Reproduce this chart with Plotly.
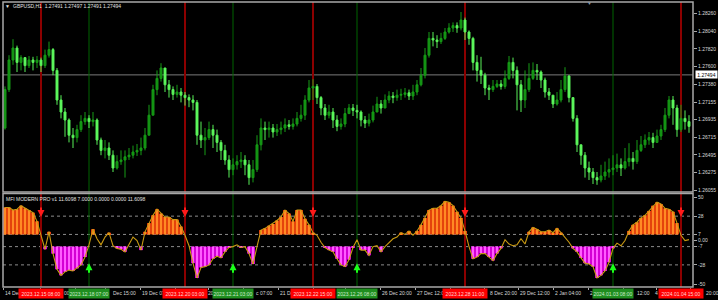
import plotly.graph_objects as go

# ---------------- data ----------------
symbol_header = "GBPUSD,H1  1.27491 1.27497 1.27491 1.27494"
indicator_header = "MFI MODERN PRO v1 11.6098 7.0000 0.0000 0.0000 11.6098"

first_open = 1.2683
close = [1.2731, 1.2768, 1.2783, 1.2765, 1.2771, 1.2761, 1.2768, 1.2765, 1.2768, 1.2761,
         1.2774, 1.2781, 1.2755, 1.2718, 1.2703, 1.2693, 1.2674, 1.2671, 1.2681, 1.2691,
         1.2695, 1.2691, 1.2693, 1.2668, 1.2655, 1.2658, 1.2649, 1.2633, 1.2641, 1.2643,
         1.2647, 1.2649, 1.2653, 1.2655, 1.2658, 1.2674, 1.2699, 1.2731, 1.2745, 1.2758,
         1.2737, 1.2731, 1.2725, 1.2728, 1.2724, 1.2721, 1.2718, 1.2715, 1.2674, 1.2668,
         1.2671, 1.2681, 1.2674, 1.2665, 1.2655, 1.2643, 1.2631, 1.2637, 1.2641, 1.2643,
         1.2637, 1.2621, 1.2631, 1.2662, 1.2683, 1.2681, 1.2683, 1.2678, 1.2681, 1.2683,
         1.2687, 1.2685, 1.2688, 1.2695, 1.2699, 1.2718, 1.2733, 1.2735, 1.2721, 1.2708,
         1.2699, 1.2703, 1.2693, 1.2685, 1.2688, 1.2701, 1.2708, 1.2705, 1.2703, 1.2693,
         1.2689, 1.2693, 1.2703, 1.2713, 1.2708, 1.2718, 1.2723, 1.2721, 1.2724, 1.2725,
         1.2727, 1.2723, 1.2728, 1.2737, 1.2749, 1.2774, 1.2795, 1.2793, 1.2791, 1.2795,
         1.2803, 1.2808, 1.2811, 1.2808, 1.2818, 1.2803, 1.2795, 1.2765, 1.2755, 1.2749,
         1.2733, 1.2731, 1.2735, 1.2738, 1.2735, 1.2745, 1.2765, 1.2755, 1.2737, 1.2718,
         1.2731, 1.2745, 1.2755, 1.2753, 1.2743, 1.2728, 1.2724, 1.2713, 1.2718, 1.2731,
         1.2748, 1.2721, 1.2695, 1.2662, 1.2649, 1.2633, 1.2628, 1.2621, 1.2618, 1.2623,
         1.2628, 1.2631, 1.2633, 1.2637, 1.2633, 1.2641, 1.2645, 1.2641, 1.2655, 1.2662,
         1.2668, 1.2671, 1.2665, 1.2673, 1.2681, 1.2699, 1.2718, 1.2708, 1.2681, 1.2695,
         1.2691, 1.2685]
high = [1.2735, 1.2774, 1.2794, 1.2786, 1.2774, 1.2771, 1.2773, 1.2772, 1.2773, 1.2771,
        1.2781, 1.2791, 1.2783, 1.2758, 1.2724, 1.2708, 1.2695, 1.2683, 1.2687, 1.2699,
        1.2703, 1.2699, 1.2703, 1.2695, 1.2671, 1.2668, 1.2665, 1.2655, 1.2649, 1.2655,
        1.2655, 1.2658, 1.2661, 1.2663, 1.2671, 1.2683, 1.2712, 1.2737, 1.2755, 1.2764,
        1.2758, 1.2743, 1.2735, 1.2737, 1.2733, 1.2728, 1.2725, 1.2724, 1.2718, 1.2691,
        1.2683, 1.2691, 1.2687, 1.2681, 1.2668, 1.2662, 1.2649, 1.2645, 1.2649, 1.2653,
        1.2649, 1.2643, 1.2643, 1.2674, 1.2695, 1.2691, 1.2691, 1.2688, 1.2688, 1.2691,
        1.2695, 1.2693, 1.2695, 1.2703, 1.2712, 1.2724, 1.2743, 1.2744, 1.2738, 1.2723,
        1.2713, 1.2712, 1.2708, 1.2699, 1.2695, 1.2708, 1.2713, 1.2713, 1.2712, 1.2705,
        1.2698, 1.2701, 1.2711, 1.2722, 1.2718, 1.2725, 1.2729, 1.2728, 1.2731, 1.2732,
        1.2733, 1.2731, 1.2737, 1.2743, 1.2758, 1.2783, 1.2803, 1.2803, 1.2799, 1.2802,
        1.2808, 1.2814, 1.2815, 1.2815, 1.2828, 1.2821, 1.2805, 1.2797, 1.2774, 1.2772,
        1.2752, 1.2737, 1.2743, 1.2743, 1.2743, 1.2755, 1.2773, 1.2771, 1.2760, 1.2743,
        1.2755, 1.2764, 1.2765, 1.2763, 1.2755, 1.2746, 1.2733, 1.2724, 1.2728, 1.2743,
        1.2759, 1.2749, 1.2721, 1.2699, 1.2662, 1.2653, 1.2641, 1.2633, 1.2628, 1.2637,
        1.2641, 1.2645, 1.2649, 1.2651, 1.2645, 1.2658, 1.2664, 1.2653, 1.2668, 1.2673,
        1.2675, 1.2678, 1.2677, 1.2681, 1.2687, 1.2708, 1.2723, 1.2723, 1.2712, 1.2712,
        1.2705, 1.2699]
low = [1.2681, 1.2728, 1.2762, 1.2753, 1.2755, 1.2753, 1.2758, 1.2755, 1.2758, 1.2753,
       1.2758, 1.2771, 1.2749, 1.2712, 1.2695, 1.2672, 1.2665, 1.2658, 1.2665, 1.2678,
       1.2687, 1.2683, 1.2685, 1.2662, 1.2649, 1.2645, 1.2643, 1.2628, 1.2631, 1.2637,
       1.2621, 1.2643, 1.2645, 1.2648, 1.2649, 1.2655, 1.2674, 1.2699, 1.2724, 1.2741,
       1.2728, 1.2721, 1.2718, 1.2721, 1.2715, 1.2711, 1.2709, 1.2705, 1.2662, 1.2658,
       1.2649, 1.2668, 1.2658, 1.2653, 1.2643, 1.2637, 1.2621, 1.2624, 1.2631, 1.2633,
       1.2624, 1.2612, 1.2615, 1.2628, 1.2655, 1.2668, 1.2671, 1.2671, 1.2673, 1.2675,
       1.2678, 1.2681, 1.2681, 1.2685, 1.2691, 1.2693, 1.2715, 1.2718, 1.2713, 1.2699,
       1.2693, 1.2695, 1.2683, 1.2679, 1.2681, 1.2684, 1.2701, 1.2698, 1.2695, 1.2685,
       1.2683, 1.2685, 1.2690, 1.2703, 1.2701, 1.2708, 1.2714, 1.2714, 1.2717, 1.2718,
       1.2721, 1.2718, 1.2718, 1.2724, 1.2735, 1.2745, 1.2771, 1.2785, 1.2783, 1.2788,
       1.2793, 1.2801, 1.2803, 1.2802, 1.2805, 1.2793, 1.2787, 1.2755, 1.2741, 1.2738,
       1.2724, 1.2718, 1.2728, 1.2733, 1.2731, 1.2732, 1.2743, 1.2745, 1.2705, 1.2703,
       1.2708, 1.2728, 1.2743, 1.2743, 1.2733, 1.2721, 1.2718, 1.2708, 1.2711, 1.2715,
       1.2728, 1.2715, 1.2691, 1.2653, 1.2637, 1.2621, 1.2618, 1.2613, 1.2612, 1.2615,
       1.2618, 1.2621, 1.2624, 1.2628, 1.2623, 1.2631, 1.2635, 1.2631, 1.2638, 1.2653,
       1.2658, 1.2662, 1.2658, 1.2665, 1.2668, 1.2678, 1.2695, 1.2687, 1.2672, 1.2678,
       1.2681, 1.2677]
mfi = [38, 38, 35, 36, 40, 37, 35, 32, 22, 7,
       -10, 10, -15, -33, -40, -36, -34, -35, -32, -28,
       -19, -5, 13, 2, -5, 4, 9, -6, -9, -10,
       -13, -4, 4, 0, -11, 10, 20, 29, 36, 31,
       27, 27, 24, 24, 16, 6, -6, -26, -43, -31,
       -30, -28, -21, -18, -20, -13, -8, -7, -5, -8,
       -7, -15, -27, -7, 12, 14, 17, 19, 23, 27,
       35, 31, 22, 35, 35, 25, 18, 9, 6, -2,
       -8, -11, -13, -21, -28, -30, -22, -8, 1, -11,
       -11, -17, -7, -6, -13, -7, -2, 2, 4, 9,
       7, 11, 6, 11, 18, 26, 35, 37, 37, 40,
       45, 44, 40, 33, 26, 11, -7, -21, -19, -15,
       -15, -19, -23, -15, -9, 1, -4, -6, -5, 2,
       -4, 10, 15, 13, 10, 10, 12, 9, 14, 9,
       4, -2, -9, -13, -20, -26, -27, -30, -43, -40,
       -35, -25, -9, -3, -6, 0, 11, 18, 21, 26,
       29, 34, 40, 44, 42, 37, 36, 33, 20, 6,
       0, 1]

last_price = 1.27494
price_ticks = [1.28260, 1.28040, 1.27820, 1.27600, 1.27380, 1.27155,
               1.26935, 1.26715, 1.26495, 1.26275, 1.26055]
mfi_ticks = [50, 28, 7, 0, -7, -28, -50]
mfi_tick_text = ["50", "28", "7", "0.00", "-7", "-28", "-50"]
mfi_levels = [28, 7, -7, -28]
upper_level, lower_level = 7, -7

# time-axis tick positions (bar index) and the visible parts of their labels
time_tick_bars = [-0.5, 8.75, 17.5, 25, 33.75, 42.5, 50.75, 59.5, 68.25, 77, 85,
                  93.75, 102.5, 111.25, 119.75, 128.25, 137, 145.75, 154.5, 162.75, 171.25]
time_label_text = ["14 Dec", "00", "Dec 15:00", "19 Dec 07", "20", "c 07:00", "21 De",
                   "26 Dec 20:00", "27 Dec 12:00", "8 Dec 20:00", "29 Dec 12:00",
                   "2 Jan 04:00", "2", "12:00", "4", "20:00"]

sell_bars = [9, 45, 77, 115, 169]
sell_times = ["2023.12.15 08:00", "2023.12.20 03:00", "2023.12.22 15:00",
              "2023.12.28 11:00", "2024.01.04 15:00"]
buy_bars = [21, 57, 88, 152]
buy_times = ["2023.12.18 07:00", "2023.12.21 03:00", "2023.12.26 08:00", "2024.01.03 08:00"]
sell_arrow_level = 27
buy_arrow_level = -26

# ---------------- figure ----------------
W, H = 718, 300
FONT = "Liberation Sans"
idx = list(range(len(close)))
opens = [first_open] + close[:-1]


def px_x(p):
    return p / W


def px_y(p):
    return 1 - p / H


XDOM = [px_x(3), px_x(693)]
XR = [-0.5, 172]
# left pixel of each visible time-label fragment
label_left_px = [3, 61.5, 111, 140, 205.5, 254, 278, 380, 415, 488, 518, 553, 588, 635, 653, 704]

fig = go.Figure()

fig.add_trace(go.Candlestick(
    x=idx, open=opens, high=high, low=low, close=close,
    increasing=dict(line=dict(color="#169C16", width=1), fillcolor="#128E12"),
    decreasing=dict(line=dict(color="#58F058", width=1), fillcolor="#62FF62"),
    whiskerwidth=0, xaxis="x", yaxis="y", hoverinfo="skip"))

up_vals = [v - upper_level if v > upper_level else None for v in mfi]
dn_vals = [v - lower_level if v < lower_level else None for v in mfi]
fig.add_trace(go.Bar(x=idx, y=up_vals, base=upper_level, width=1.0,
                     marker=dict(color="#E4430C", line=dict(width=0)), xaxis="x2", yaxis="y2"))
fig.add_trace(go.Bar(x=idx, y=up_vals, base=upper_level, width=0.45,
                     marker=dict(color="#FF8A24", line=dict(width=0)), xaxis="x2", yaxis="y2"))
fig.add_trace(go.Bar(x=idx, y=dn_vals, base=lower_level, width=1.0,
                     marker=dict(color="#D400D4", line=dict(width=0)), xaxis="x2", yaxis="y2"))
fig.add_trace(go.Bar(x=idx, y=dn_vals, base=lower_level, width=0.45,
                     marker=dict(color="#FF5CFF", line=dict(width=0)), xaxis="x2", yaxis="y2"))
fig.add_trace(go.Scatter(x=idx, y=mfi, mode="lines",
                         line=dict(color="#C99A12", width=1.1), xaxis="x2", yaxis="y2"))

shapes = []
for lv in mfi_levels:
    shapes.append(dict(type="line", xref="paper", yref="y2", x0=XDOM[0], x1=XDOM[1], y0=lv, y1=lv,
                       line=dict(color="#8C8C8C", width=1, dash="dot"), layer="below"))
shapes.append(dict(type="line", xref="paper", yref="y", x0=XDOM[0], x1=XDOM[1],
                   y0=last_price, y1=last_price, line=dict(color="#7A7A7A", width=1), layer="below"))
for b in sell_bars:
    shapes.append(dict(type="line", xref="x", yref="paper", x0=b, x1=b, y0=px_y(287), y1=px_y(2),
                       line=dict(color="#8C0000", width=2), layer="below"))
for b in buy_bars:
    shapes.append(dict(type="line", xref="x", yref="paper", x0=b, x1=b, y0=px_y(287), y1=px_y(2),
                       line=dict(color="#006400", width=1), layer="below"))
shapes.append(dict(type="rect", xref="paper", yref="paper", x0=XDOM[0], x1=XDOM[1],
                   y0=px_y(192), y1=px_y(2), line=dict(color="#A8A8A8", width=1.5)))
shapes.append(dict(type="rect", xref="paper", yref="paper", x0=XDOM[0], x1=XDOM[1],
                   y0=px_y(287), y1=px_y(193.5), line=dict(color="#A8A8A8", width=1.5)))

ann = []
ann.append(dict(xref="paper", yref="paper", x=px_x(3), y=px_y(6), text="▼", showarrow=False,
                xanchor="left", yanchor="middle", font=dict(size=5, color="#E0E0E0", family=FONT)))
ann.append(dict(xref="paper", yref="paper", x=px_x(11), y=px_y(6), text=symbol_header, showarrow=False,
                xanchor="left", yanchor="middle", font=dict(size=5, color="#E0E0E0", family=FONT)))
ann.append(dict(xref="paper", yref="paper", x=px_x(4), y=px_y(198.5), text=indicator_header,
                showarrow=False, xanchor="left", yanchor="middle",
                font=dict(size=5, color="#E0E0E0", family=FONT)))
ann.append(dict(xref="paper", yref="paper", x=px_x(589), y=px_y(3), text="▼", showarrow=False,
                xanchor="center", yanchor="middle", font=dict(size=5, color="#8898A8", family=FONT)))
ann.append(dict(xref="paper", yref="y", x=px_x(694.5), y=last_price, text=f"{last_price:.5f}",
                showarrow=False, xanchor="left", yanchor="middle", bgcolor="#FFFFFF",
                width=21, height=7, borderpad=0, font=dict(size=5, color="#000000", family=FONT)))
for lx, t in zip(label_left_px, time_label_text):
    ann.append(dict(xref="paper", yref="paper", x=px_x(lx), y=px_y(293), text=t, showarrow=False,
                    xanchor="left", yanchor="middle", font=dict(size=5, color="#D8D8D8", family=FONT)))
for b, t in zip(sell_bars, sell_times):
    ann.append(dict(xref="x2", yref="paper", x=b, y=px_y(293.5), text=t, showarrow=False,
                    xanchor="center", yanchor="middle", bgcolor="#FF0000", width=44, height=9,
                    borderpad=0, font=dict(size=5, color="#FFD6D6", family=FONT)))
for b, t in zip(buy_bars, buy_times):
    ann.append(dict(xref="x2", yref="paper", x=b, y=px_y(293.5), text=t, showarrow=False,
                    xanchor="center", yanchor="middle", bgcolor="#1F8E1F", width=40, height=9,
                    borderpad=0, font=dict(size=5, color="#CDEBCD", family=FONT)))
for b in sell_bars:
    ann.append(dict(xref="x2", yref="y2", x=b, y=sell_arrow_level, text="", showarrow=True,
                    ax=0, ay=-11, arrowhead=2, arrowsize=0.7, arrowwidth=2, arrowcolor="#FF1A1A"))
for b in buy_bars:
    ann.append(dict(xref="x2", yref="y2", x=b, y=buy_arrow_level, text="", showarrow=True,
                    ax=0, ay=11, arrowhead=2, arrowsize=0.7, arrowwidth=2, arrowcolor="#1AFF1A"))

tickfont = dict(size=5, color="#D8D8D8", family=FONT)
fig.update_layout(
    width=W, height=H, margin=dict(l=0, r=0, t=0, b=0),
    paper_bgcolor="#000000", plot_bgcolor="#000000",
    showlegend=False, barmode="overlay", template="none",
    font=dict(family=FONT, size=5, color="#D8D8D8"),
    xaxis=dict(domain=XDOM, range=XR, anchor="y", showgrid=False, zeroline=False,
               showticklabels=False, ticks="", showline=False,
               rangeslider=dict(visible=False), automargin=False),
    yaxis=dict(domain=[px_y(192), px_y(2)], range=[1.2603, 1.28405], anchor="x", side="right",
               tickvals=price_ticks, ticktext=[f"{v:.5f}" for v in price_ticks],
               ticks="outside", ticklen=3, tickcolor="#A8A8A8", tickfont=tickfont,
               showgrid=False, zeroline=False, showline=False, automargin=False),
    xaxis2=dict(domain=XDOM, range=XR, anchor="y2", showgrid=False, zeroline=False,
                showticklabels=False, tickvals=time_tick_bars, ticks="outside", ticklen=2,
                tickcolor="#A8A8A8", showline=False, automargin=False),
    yaxis2=dict(domain=[px_y(287), px_y(193)], range=[-53.4, 54.6], anchor="x2", side="right",
                tickvals=mfi_ticks, ticktext=mfi_tick_text, ticks="outside", ticklen=3,
                tickcolor="#A8A8A8", tickfont=tickfont, showgrid=False, zeroline=False,
                showline=False, automargin=False),
    shapes=shapes, annotations=ann,
)

fig.write_html("out.html")
